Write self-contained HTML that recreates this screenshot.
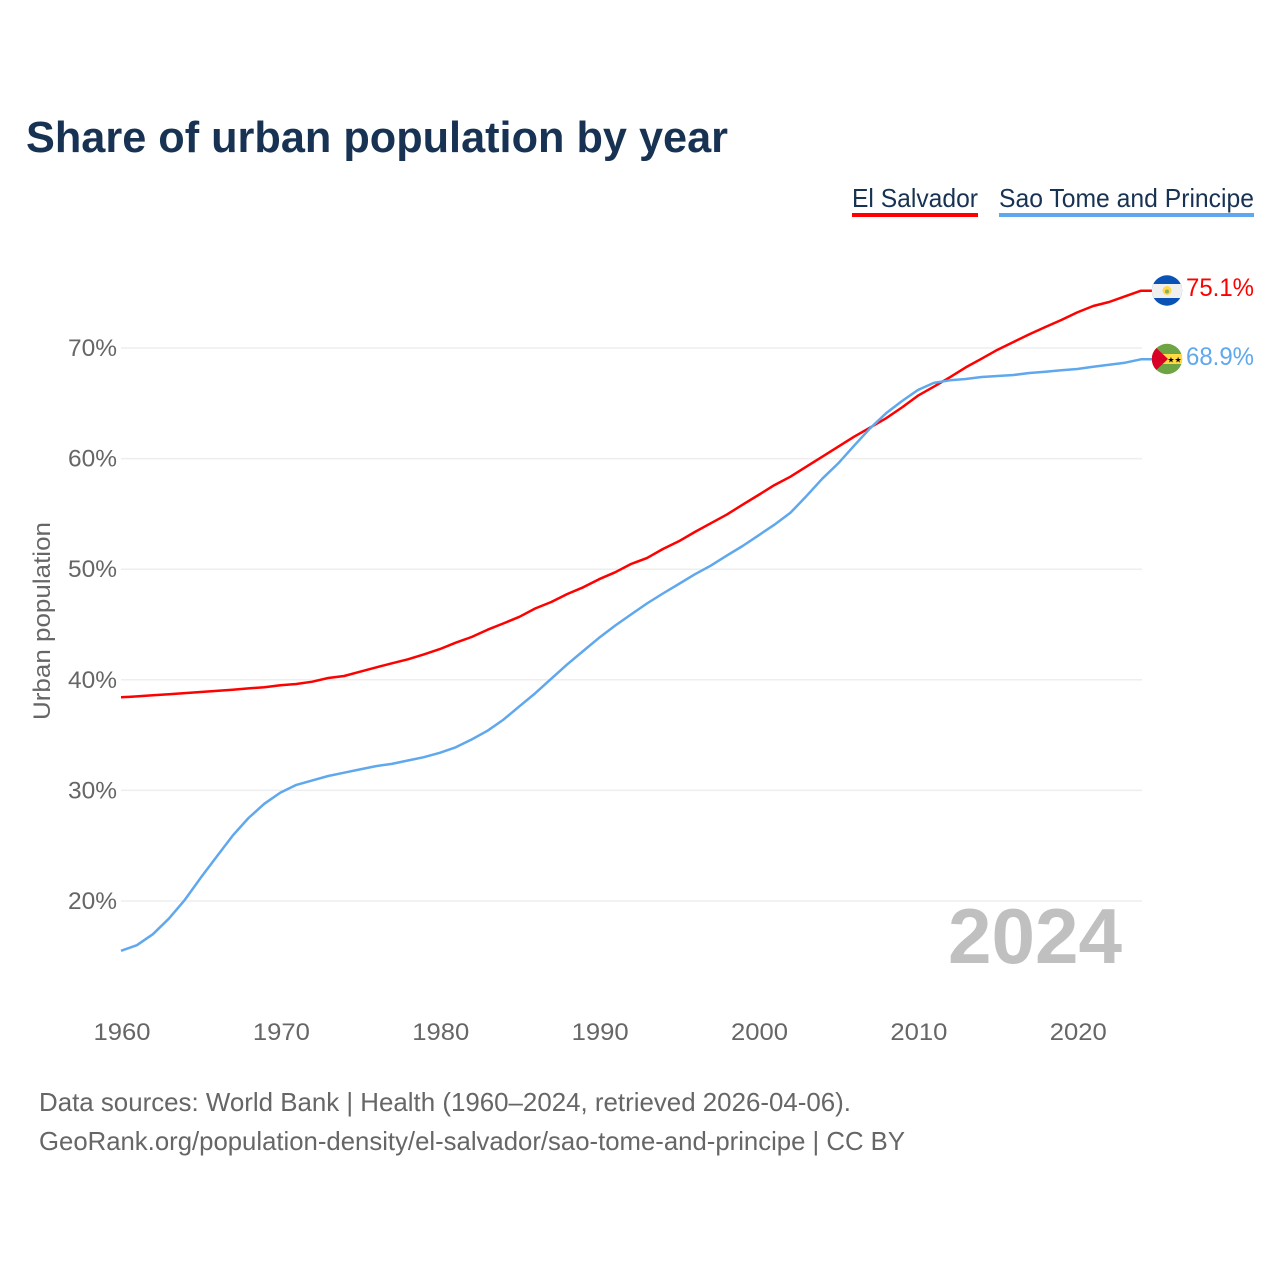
<!DOCTYPE html>
<html lang="en">
<head>
<meta charset="utf-8">
<title>Share of urban population by year</title>
<style>
html,body{margin:0;padding:0;background:#fff;width:1280px;height:1280px;overflow:hidden}
svg{display:block}
text{font-family:"Liberation Sans",Arial,sans-serif}
</style>
</head>
<body>
<svg id="chart" xmlns="http://www.w3.org/2000/svg" width="1280" height="1280" viewBox="0 0 1280 1280">
  <defs>
    <clipPath id="flag-clip-sv"><circle cx="1167" cy="290.5" r="15.2"/></clipPath>
    <clipPath id="flag-clip-st"><circle cx="1167" cy="359" r="15.2"/></clipPath>
  </defs>
  <text x="26" y="152" font-size="44" font-weight="700" fill="#173252" textLength="702" lengthAdjust="spacingAndGlyphs">Share of urban population by year</text>

  <g>
    <text x="852" y="207" font-size="26" fill="#173252" textLength="126" lengthAdjust="spacingAndGlyphs">El Salvador</text>
    <rect x="852" y="213" width="126" height="4" fill="#ff0000"/>
  </g>
  <g>
    <text x="999" y="207" font-size="26" fill="#173252" textLength="255" lengthAdjust="spacingAndGlyphs">Sao Tome and Principe</text>
    <rect x="999" y="213" width="255" height="4" fill="#5fa8ee"/>
  </g>

  <g id="grid"></g>
  <g id="yticks"></g>
  <g id="xticks"></g>
  <text transform="translate(50,621) rotate(-90)" text-anchor="middle" font-size="24" fill="#666666" textLength="198" lengthAdjust="spacingAndGlyphs">Urban population</text>
  <text x="948" y="963" font-size="78" font-weight="700" fill="#c0c0c0" textLength="174" lengthAdjust="spacingAndGlyphs">2024</text>
  <g id="series"></g>

  <g clip-path="url(#flag-clip-sv)">
    <rect x="1151" y="275" width="32" height="31" fill="#0a52b4"/>
    <rect x="1151" y="284" width="32" height="14" fill="#f0f0f0"/>
    <circle cx="1167" cy="290.5" r="4.5" fill="#ffda44"/>
    <circle cx="1167" cy="291.5" r="2" fill="#8fae5c"/>
  </g>
  <g clip-path="url(#flag-clip-st)">
    <rect x="1151" y="343" width="32" height="32" fill="#6da544"/>
    <rect x="1151" y="354" width="32" height="10" fill="#ffda44"/>
    <polygon points="1151,343 1168,359 1151,375" fill="#d80027"/>
    <text x="1174.5" y="362.5" text-anchor="middle" font-size="8" fill="#000">★★</text>
  </g>
  <text x="1186" y="296" font-size="25" fill="#ff0000" textLength="68" lengthAdjust="spacingAndGlyphs">75.1%</text>
  <text x="1186" y="365" font-size="25" fill="#5fa8ee" textLength="68" lengthAdjust="spacingAndGlyphs">68.9%</text>

  <text x="39" y="1111" font-size="26" fill="#666666" textLength="812" lengthAdjust="spacingAndGlyphs">Data sources: World Bank | Health (1960–2024, retrieved 2026-04-06).</text>
  <text x="39" y="1150" font-size="26" fill="#666666" textLength="866" lengthAdjust="spacingAndGlyphs">GeoRank.org/population-density/el-salvador/sao-tome-and-principe | CC BY</text>
</svg>
<script>
const startYear = 1960;
const yTickValues = [20, 30, 40, 50, 60, 70];
const xTickValues = [1960, 1970, 1980, 1990, 2000, 2010, 2020];
const elSalvador = [38.42,38.5,38.6,38.7,38.8,38.9,39.0,39.1,39.22,39.33,39.5,39.62,39.83,40.16,40.34,40.73,41.12,41.49,41.85,42.3,42.78,43.35,43.87,44.53,45.1,45.7,46.46,47.03,47.76,48.36,49.1,49.72,50.47,51.0,51.83,52.52,53.36,54.15,54.93,55.83,56.71,57.6,58.36,59.27,60.17,61.08,61.98,62.8,63.64,64.62,65.69,66.5,67.35,68.25,69.03,69.85,70.54,71.24,71.9,72.53,73.22,73.8,74.16,74.67,75.18];
const saoTome = [15.5,16.0,17.0,18.4,20.1,22.1,24.0,25.9,27.5,28.8,29.8,30.5,30.9,31.3,31.6,31.9,32.2,32.4,32.7,33.0,33.4,33.9,34.6,35.4,36.4,37.6,38.8,40.1,41.4,42.6,43.8,44.9,45.9,46.9,47.8,48.66,49.54,50.32,51.22,52.1,53.06,54.02,55.1,56.6,58.18,59.57,61.17,62.74,64.1,65.2,66.2,66.84,67.08,67.2,67.38,67.47,67.56,67.74,67.86,67.98,68.1,68.3,68.49,68.67,68.98];

const NS = 'http://www.w3.org/2000/svg';
function xScale(year) { return 121 + (year - 1960) * (1141 - 121) / 64; }
function yScale(v) { return 348 + (70 - v) * (901 - 348) / 50; }
function make(tag, attrs, parent) {
  const el = document.createElementNS(NS, tag);
  for (const k in attrs) el.setAttribute(k, attrs[k]);
  parent.appendChild(el);
  return el;
}
const grid = document.getElementById('grid');
const yticks = document.getElementById('yticks');
const xticks = document.getElementById('xticks');
const series = document.getElementById('series');

yTickValues.forEach(function (v) {
  const line = make('line', {x1: 121, x2: 1142, y1: yScale(v), y2: yScale(v), stroke: '#eeeeee', 'stroke-width': 1.5}, grid);
  
  
  const t = make('text', {x: 117, y: yScale(v) + 8, 'text-anchor': 'end', 'font-size': 24, fill: '#666666', textLength: 49, lengthAdjust: 'spacingAndGlyphs'}, yticks);
  t.textContent = v + '%';
  
  
});

xTickValues.forEach(function (y) {
  const t = make('text', {x: xScale(y) + 1, y: 1040, 'text-anchor': 'middle', 'font-size': 24, fill: '#666666', textLength: 57, lengthAdjust: 'spacingAndGlyphs'}, xticks);
  t.textContent = y;
  
  
});

function drawSeries(values, color) {
  const pts = values.map(function (v, i) { return xScale(startYear + i).toFixed(1) + ',' + yScale(v).toFixed(1); });
  const last = values[values.length - 1];
  pts.push('1152,' + yScale(last).toFixed(1));
  return make('polyline', {points: pts.join(' '), fill: 'none', stroke: color, 'stroke-width': 2.5, 'stroke-linejoin': 'round'}, series);
}
const lineSv = drawSeries(elSalvador, '#ff0000');


const lineSt = drawSeries(saoTome, '#5fa8ee');


</script>
</body>
</html>
